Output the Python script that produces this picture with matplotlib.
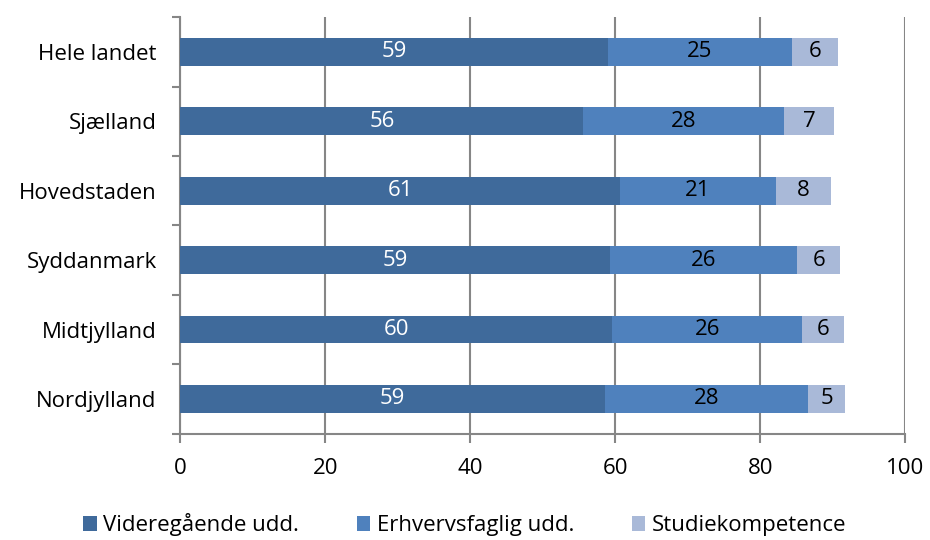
import numpy as np
import matplotlib
matplotlib.use("Agg")
import matplotlib.pyplot as plt
from matplotlib.ticker import FixedLocator

plt.rcParams['font.family'] = ['Open Sans', 'DejaVu Sans']

regions = ["Hele landet", "Sjælland", "Hovedstaden", "Syddanmark", "Midtjylland", "Nordjylland"]
videregaaende = [59.0, 55.6, 60.7, 59.2, 59.6, 58.6]
erhvervsfaglig = [25.3, 27.6, 21.4, 25.9, 26.2, 28.0]
studiekompetence = [6.4, 7.0, 7.6, 5.9, 5.8, 5.1]
series_names = ["Videregående udd.", "Erhvervsfaglig udd.", "Studiekompetence"]
colors = ["#3F6A9B", "#4F81BD", "#A9B9D8"]
label_colors = ["white", "black", "black"]

fig = plt.figure(figsize=(9.3, 5.4), dpi=100)
ax = fig.add_axes([0.1939, 0.197, 0.7796, 0.771])

y = np.arange(len(regions))
left = np.zeros(len(regions))
for vals, name, col, lc in zip([videregaaende, erhvervsfaglig, studiekompetence],
                               series_names, colors, label_colors):
    bars = ax.barh(y, vals, left=left, height=0.4, color=col, label=name, zorder=3)
    ax.bar_label(bars, labels=["%.0f" % v for v in vals], label_type="center",
                 color=lc, fontsize=16)
    left = left + np.array(vals)

ax.set_xlim(0, 100)
ax.set_ylim(len(regions) - 0.5, -0.5)
ax.set_xticks(np.arange(0, 101, 20))
ax.set_yticks(y)
ax.set_yticklabels(regions)
ax.yaxis.set_minor_locator(FixedLocator(np.arange(-0.5, len(regions), 1)))
ax.tick_params(axis="y", which="major", length=0, labelsize=16, pad=17)
ax.tick_params(axis="y", which="minor", length=6, width=1.5, color="#868686")
ax.tick_params(axis="x", which="major", length=6.5, width=1.5, color="#868686",
               labelsize=16, pad=11)
ax.grid(axis="x", color="#868686", linewidth=1.5, zorder=0)

for s in ["top", "right"]:
    ax.spines[s].set_visible(False)
for s in ["left", "bottom"]:
    ax.spines[s].set_color("#868686")
    ax.spines[s].set_linewidth(1.5)

fig.legend(loc="center", bbox_to_anchor=(0.5, 0.028), ncol=3, frameon=False,
           fontsize=16, handlelength=0.6, handleheight=0.6, handletextpad=0.3,
           columnspacing=2.6)

fig.savefig("out.png", dpi=100)
